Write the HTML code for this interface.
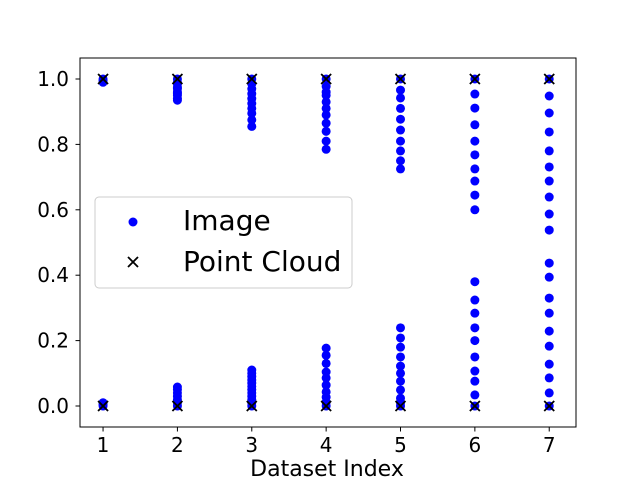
<!DOCTYPE html>
<html><head><meta charset="utf-8"><style>
body{margin:0;background:#fff;}
svg{display:block;font-family:"DejaVu Sans","Liberation Sans",sans-serif;}
</style></head><body>
<svg id="chart" width="640" height="480" xmlns="http://www.w3.org/2000/svg">
<rect x="0" y="0" width="640" height="480" fill="#fff"/>
<g id="marks"></g>
<g id="axes"></g>
</svg>
<script>
const datasets = [1,2,3,4,5,6,7];
const imageValues = [
 [1.0,0.995,0.99,0.0,0.005,0.01],
 [1.0,0.99,0.985,0.975,0.97,0.96,0.955,0.95,0.94,0.935,0,0.01,0.02,0.03,0.04,0.05,0.058],
 [1.0,0.985,0.97,0.955,0.94,0.925,0.91,0.895,0.875,0.855,0,0.01,0.02,0.03,0.04,0.05,0.06,0.07,0.08,0.09,0.1,0.11],
 [1.0,0.977,0.96,0.95,0.93,0.91,0.89,0.865,0.84,0.81,0.785,0,0.012,0.027,0.043,0.064,0.086,0.104,0.13,0.155,0.177],
 [1.0,0.966,0.942,0.91,0.877,0.844,0.81,0.78,0.75,0.725,0,0.01,0.024,0.049,0.076,0.1,0.122,0.15,0.18,0.208,0.239],
 [1.0,0.954,0.911,0.86,0.81,0.768,0.725,0.688,0.645,0.6,0,0.034,0.076,0.107,0.15,0.2,0.239,0.284,0.324,0.38],
 [1.0,0.948,0.896,0.838,0.78,0.731,0.688,0.639,0.587,0.538,0,0.04,0.086,0.128,0.183,0.229,0.284,0.33,0.394,0.437]
];
const cloudValues = [[0,1],[0,1],[0,1],[0,1],[0,1],[0,1],[0,1]];
const xTicks = [1,2,3,4,5,6,7];
const yTicks = [0.0,0.2,0.4,0.6,0.8,1.0];
const yTickLabels = ["0.0","0.2","0.4","0.6","0.8","1.0"];

const L=80,R=576,T=58,B=427;
const xMin=0.69,xMax=7.36,yMin=-0.0642,yMax=1.0642;
function xs(v){return L+(v-xMin)/(xMax-xMin)*(R-L);}
function ys(v){return B-(v-yMin)/(yMax-yMin)*(B-T);}
const NS="http://www.w3.org/2000/svg";
function mk(tag,attrs,parent){const e=document.createElementNS(NS,tag);for(const k in attrs)e.setAttribute(k,attrs[k]);parent.appendChild(e);return e;}
const marks=document.getElementById('marks');
const axes=document.getElementById('axes');
datasets.forEach((d,i)=>{
  imageValues[i].forEach(v=>{
    const c=mk('circle',{cx:xs(d),cy:ys(v),r:4.5,fill:'#0000ff'},marks);
    
    
  });
});
datasets.forEach((d,i)=>{
  cloudValues[i].forEach(v=>{
    const x=xs(d),y=ys(v),s=5;
    const p=mk('path',{d:`M${x-s},${y-s}L${x+s},${y+s}M${x-s},${y+s}L${x+s},${y-s}`,stroke:'#000','stroke-width':1.8,fill:'none'},marks);
    
    
  });
});
const frame=mk('rect',{x:L,y:T,width:R-L,height:B-T,fill:'none',stroke:'#000','stroke-width':1},axes);


xTicks.forEach(t=>{
  const x=xs(t);
  mk('line',{x1:x,x2:x,y1:B,y2:B+4.5,stroke:'#000'},axes);
  const tx=mk('text',{x:x,y:452,'text-anchor':'middle','font-size':20},axes);
  tx.textContent=t;
  
  
});
yTicks.forEach((t,i)=>{
  const y=ys(t);
  mk('line',{x1:L-4.5,x2:L,y1:y,y2:y,stroke:'#000'},axes);
  const tx=mk('text',{x:L-11,y:y+7,'text-anchor':'end','font-size':20},axes);
  tx.textContent=yTickLabels[i];
  
  
});
const xt=mk('text',{x:(L+R)/2-1,y:476,'text-anchor':'middle','font-size':22},axes);
xt.textContent='Dataset Index';


// legend
const lg=mk('g',{},axes);


mk('rect',{x:95,y:197,width:257,height:91,rx:4,fill:'#fff','fill-opacity':0.8,stroke:'#ccc'},lg);
mk('circle',{cx:133,cy:222,r:4.5,fill:'#0000ff'},lg);
const t1=mk('text',{x:183,y:230,'font-size':28},lg);
t1.textContent='Image';


mk('path',{d:'M128,257L138,267M128,267L138,257',stroke:'#000','stroke-width':1.8},lg);
const t2=mk('text',{x:183,y:271,'font-size':28},lg);
t2.textContent='Point Cloud';


</script>
</body></html>
